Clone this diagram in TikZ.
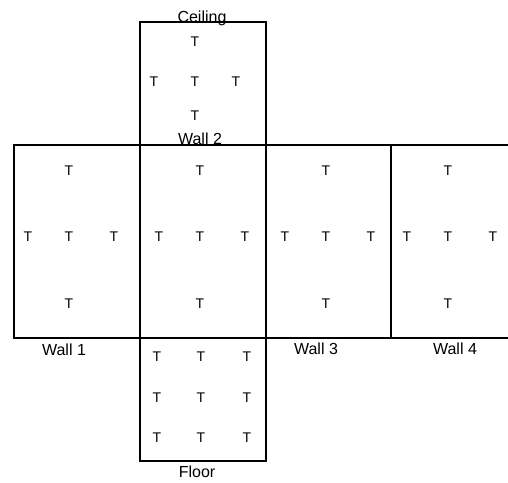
\documentclass[tikz,border=0pt]{standalone}
\usepackage{fontspec}
\setmainfont{Liberation Sans}
\usepackage{tikz}

\begin{document}
\begin{tikzpicture}[x=1pt,y=-1pt,
  sensor/.style={font=\fontsize{14}{14}\selectfont,inner sep=0pt},
  facename/.style={font=\fontsize{16}{16}\selectfont,anchor=base,inner sep=0pt},
  edge/.style={line width=2pt}]
  \useasboundingbox (0,0) rectangle (508,482);
  \clip (0,0) rectangle (508,482);
  % the unfolded room
  \draw[edge] (139.5,21.5) rectangle (265.5,144.5);
  \draw[edge] (13.5,144.5) rectangle (139.5,338);
  \draw[edge] (139.5,144.5) rectangle (265.5,338);
  \draw[edge] (265.5,144.5) rectangle (390.5,338);
  \draw[edge] (390.5,144.5) rectangle (530,338);
  \draw[edge] (139.5,338) rectangle (265.5,461);
  % sensors on the walls
  \foreach \cx [count=\i] in {69,200,326,448} {
    \node[sensor] (w\i top) at (\cx,171) {T};
    \node[sensor] (w\i left) at (\cx-41,237) {T};
    \node[sensor] (w\i mid) at (\cx,237) {T};
    \node[sensor] (w\i right) at (\cx+45,237) {T};
    \node[sensor] (w\i bot) at (\cx,304) {T};
  }
  % ceiling
  \node[sensor] (c top) at (195,42) {T};
  \node[sensor] (c left) at (154,82) {T};
  \node[sensor] (c mid) at (195,82) {T};
  \node[sensor] (c right) at (236,82) {T};
  \node[sensor] (c bot) at (195,116) {T};
  % floor
  \foreach \fy [count=\j] in {357,398,438}
    \foreach \fx [count=\k] in {157,201,247}
      \node[sensor] (f\j\k) at (\fx,\fy) {T};
  % names of the faces
  \node[facename] (ceiling) at (202,22.5) {Ceiling};
  \node[facename] (wall2) at (200,144) {Wall 2};
  \node[facename] (wall1) at (64,355) {Wall 1};
  \node[facename] (wall3) at (316,354) {Wall 3};
  \node[facename] (wall4) at (455,354) {Wall 4};
  \node[facename] (floor) at (197,477) {Floor};
\end{tikzpicture}
\end{document}
